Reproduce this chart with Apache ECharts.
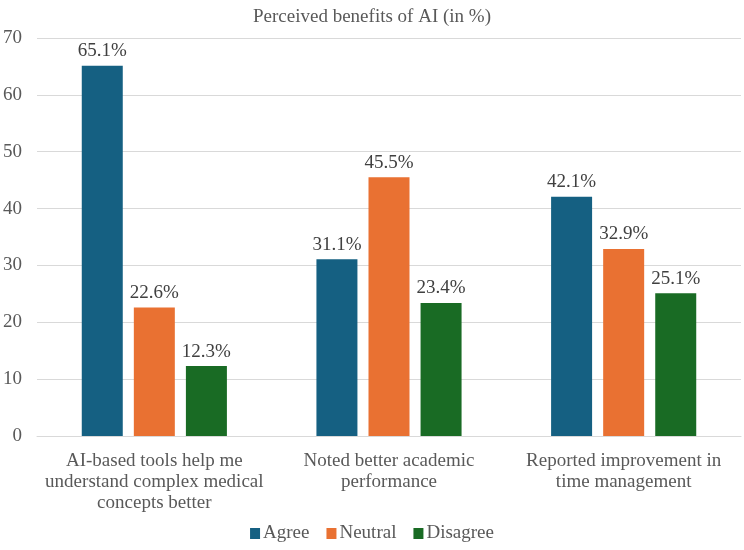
<!DOCTYPE html>
<html>
<head>
<meta charset="utf-8">
<script src="https://cdn.jsdelivr.net/npm/echarts@6/dist/echarts.min.js"></script>
<style>
  html, body { margin: 0; padding: 0; background: #fff; }
  #box1 { width: 744px; height: 550px; }
</style>
</head>
<body>
<div id="box1"></div>
<script>
var categories = [
    'AI-based tools help me\nunderstand complex medical\nconcepts better',
    'Noted better academic\nperformance',
    'Reported improvement in\ntime management'
];
var agree = [65.1, 31.1, 42.1];
var neutral = [22.6, 45.5, 32.9];
var disagree = [12.3, 23.4, 25.1];
var seriesNames = ['Agree', 'Neutral', 'Disagree'];

var serif = '"Liberation Serif", "DejaVu Serif", serif';

var chart = echarts.init(document.getElementById('box1'));

function barSeries(name, data) {
    return {
        name: name,
        type: 'bar',
        data: data,
        barWidth: 41,
        barGap: '27%',
        label: {
            show: true,
            position: 'top',
            distance: 5,
            formatter: '{c}%',
            fontFamily: serif,
            fontSize: 19,
            color: '#404040'
        }
    };
}

var option = {
    animation: false,
    color: ['#156082', '#E97132', '#196B24'],
    title: {
        text: 'Perceived benefits of AI (in %)',
        left: 'center',
        top: 3,
        textStyle: {
            fontFamily: serif,
            fontSize: 19,
            fontWeight: 'normal',
            color: '#595959'
        }
    },
    legend: {
        bottom: 2,
        left: 'center',
        itemWidth: 10,
        itemHeight: 11,
        itemGap: 17,
        icon: 'rect',
        data: seriesNames,
        textStyle: {
            fontFamily: serif,
            fontSize: 19,
            color: '#595959',
            padding: [0, 0, 0, -2]
        }
    },
    grid: {
        left: 36,
        right: 3,
        top: 38,
        bottom: 114,
        containLabel: false
    },
    xAxis: {
        type: 'category',
        data: categories,
        axisTick: { show: false },
        axisLine: { lineStyle: { color: '#d9d9d9', width: 1 } },
        axisLabel: {
            margin: 15,
            fontFamily: serif,
            fontSize: 19,
            lineHeight: 21,
            color: '#595959',
            interval: 0
        }
    },
    yAxis: {
        type: 'value',
        min: 0,
        max: 70,
        interval: 10,
        axisLine: { show: false },
        axisTick: { show: false },
        splitLine: { lineStyle: { color: '#d9d9d9', width: 1 } },
        axisLabel: {
            margin: 15,
            fontFamily: serif,
            fontSize: 19,
            color: '#595959'
        }
    },
    series: [
        barSeries(seriesNames[0], agree),
        barSeries(seriesNames[1], neutral),
        barSeries(seriesNames[2], disagree)
    ]
};

chart.setOption(option);
</script>
</body>
</html>
